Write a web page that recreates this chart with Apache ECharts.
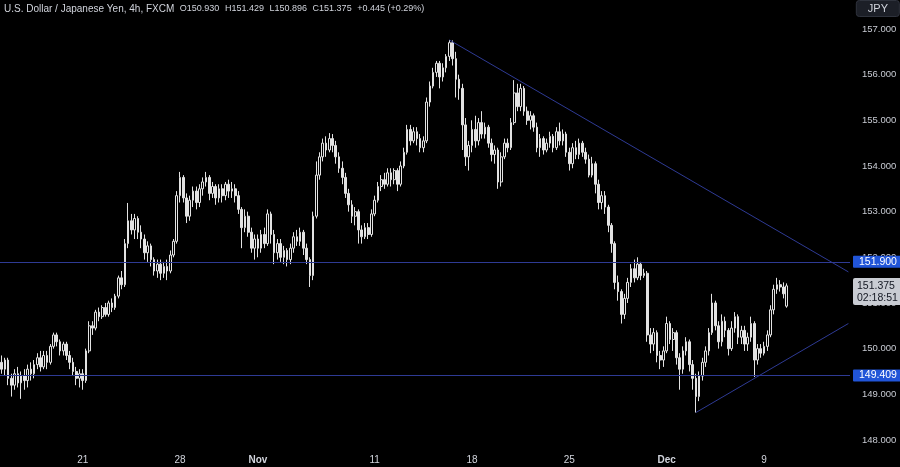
<!DOCTYPE html>
<html><head><meta charset="utf-8">
<script src="https://cdn.jsdelivr.net/npm/echarts@6/dist/echarts.min.js"></script>
<style>html,body{margin:0;padding:0;background:#000;}#c{width:900px;height:467px;}</style>
</head><body><div id="c"></div>
<script>
const opens=[149.70,149.55,149.75,149.35,149.20,149.45,149.25,149.40,149.30,149.55,149.45,149.65,149.80,149.60,149.85,149.70,150.05,150.30,150.15,149.95,150.10,149.85,149.70,149.50,149.35,149.45,149.30,149.95,150.50,150.45,150.80,150.70,150.90,150.75,151.00,150.90,151.15,151.55,151.40,152.30,152.80,152.60,152.85,152.55,152.40,152.10,152.25,151.95,151.70,151.85,151.65,151.80,151.70,152.05,152.35,153.35,153.75,153.30,152.90,153.25,153.45,153.20,153.50,153.65,153.75,153.40,153.55,153.30,153.50,153.35,153.60,153.45,153.50,153.35,153.05,152.65,152.90,152.55,152.20,152.40,152.20,152.50,152.30,152.95,152.50,152.10,152.30,152.00,152.15,151.95,152.20,152.45,152.35,152.55,152.20,151.95,151.60,152.90,153.80,154.20,154.50,154.35,154.60,154.45,154.20,153.95,153.75,153.40,153.15,152.90,153.00,152.60,152.45,152.65,152.50,152.95,153.25,153.55,153.70,153.60,153.85,153.70,153.90,153.60,154.00,154.30,154.80,154.55,154.75,154.60,154.40,154.55,155.40,155.75,156.05,156.25,155.95,156.15,156.40,156.70,156.35,155.90,155.70,154.90,154.20,154.45,154.80,154.55,154.95,154.70,154.85,154.50,154.25,154.35,153.65,154.20,154.50,154.40,154.95,155.60,155.30,155.70,155.20,155.00,155.10,154.85,154.40,154.60,154.35,154.50,154.65,154.40,154.75,154.55,154.70,154.30,154.05,154.40,154.25,154.50,154.30,154.15,153.80,154.05,153.60,153.20,153.35,153.10,152.70,152.30,151.45,151.25,150.75,151.10,151.45,151.75,151.55,151.85,151.60,151.65,150.30,150.10,150.35,149.85,149.75,149.95,150.55,150.20,150.35,149.80,149.55,149.95,150.15,149.65,149.35,148.95,149.40,149.70,149.95,150.35,151.00,150.50,150.15,150.60,150.40,150.00,150.45,150.70,150.25,150.40,150.10,150.25,150.55,149.75,150.00,149.90,150.05,150.30,150.85,151.30,151.40,151.35,150.930];
const highs=[149.85,149.80,149.80,149.45,149.55,149.60,149.50,149.55,149.65,149.70,149.75,149.90,149.95,149.95,149.95,150.10,150.35,150.35,150.20,150.15,150.15,149.95,149.80,149.60,149.55,149.55,150.00,150.60,150.60,150.85,150.90,150.95,151.00,151.05,151.10,151.20,151.60,151.70,152.40,153.19,152.95,152.95,152.90,152.70,152.50,152.35,152.30,152.00,151.95,151.95,151.90,151.95,152.15,152.40,153.45,153.87,153.80,153.40,153.35,153.55,153.55,153.60,153.75,153.87,153.80,153.65,153.60,153.60,153.60,153.65,153.70,153.65,153.60,153.45,153.10,153.05,153.00,152.65,152.50,152.50,152.60,152.65,153.05,153.00,152.60,152.40,152.40,152.25,152.20,152.30,152.55,152.60,152.65,152.60,152.30,152.00,153.00,154.10,154.30,154.60,154.65,154.72,154.70,154.55,154.30,154.10,153.85,153.50,153.25,153.10,153.05,152.70,152.75,152.75,153.05,153.35,153.65,153.80,153.85,153.95,153.95,153.95,153.95,154.10,154.40,154.90,154.90,154.85,154.85,154.70,154.65,155.50,155.85,156.15,156.30,156.30,156.25,156.45,156.76,156.75,156.50,156.00,155.80,155.05,154.55,155.00,155.10,155.05,155.20,154.95,154.90,154.60,154.45,154.40,154.30,154.60,154.60,155.05,155.88,155.80,155.80,155.75,155.30,155.20,155.15,154.95,154.70,154.65,154.60,154.75,154.70,154.85,154.95,154.80,154.75,154.40,154.50,154.55,154.60,154.55,154.40,154.25,154.20,154.10,153.70,153.45,153.45,153.15,152.75,152.35,151.60,151.30,151.20,151.55,151.85,151.95,152.00,151.90,151.75,151.70,150.45,150.45,150.40,149.95,150.05,150.70,150.60,150.45,150.40,149.90,150.05,150.25,150.20,149.75,149.45,149.50,149.80,150.05,150.45,151.20,151.05,150.60,150.75,150.70,150.45,150.60,150.80,150.75,150.50,150.50,150.35,150.70,150.60,150.10,150.10,150.15,150.40,150.95,151.40,151.55,151.50,151.45,151.429];
const lows=[149.45,149.40,149.20,148.95,149.10,149.15,148.90,149.10,149.15,149.30,149.35,149.55,149.50,149.55,149.55,149.65,150.00,150.05,149.85,149.85,149.75,149.55,149.40,149.20,149.15,149.10,149.25,149.90,150.30,150.40,150.60,150.65,150.70,150.70,150.80,150.85,151.10,151.30,151.35,152.20,152.50,152.40,152.40,152.20,151.95,151.90,151.80,151.60,151.55,151.50,151.55,151.50,151.65,152.00,152.30,153.20,153.20,152.75,152.80,153.10,153.05,153.10,153.35,153.55,153.25,153.30,153.15,153.20,153.20,153.25,153.30,153.30,153.20,152.95,152.20,152.55,152.45,152.10,151.95,152.00,152.10,152.20,152.25,152.30,151.85,151.95,151.90,151.85,151.80,151.85,152.10,152.25,152.25,152.05,151.85,151.35,151.50,152.85,153.70,154.10,154.20,154.30,154.30,154.05,153.85,153.60,153.30,153.00,152.75,152.70,152.30,152.30,152.40,152.40,152.45,152.90,153.20,153.45,153.50,153.55,153.55,153.60,153.45,153.55,153.95,154.25,154.45,154.50,154.45,154.30,154.30,154.50,155.30,155.70,155.95,155.70,155.85,156.05,156.30,156.20,155.50,155.45,154.35,154.00,153.90,154.30,154.40,154.45,154.60,154.60,154.40,154.10,154.05,153.50,153.55,154.15,154.30,154.35,154.90,155.20,155.20,155.10,154.90,154.80,154.75,154.30,154.20,154.25,154.30,154.40,154.30,154.35,154.45,154.45,154.20,153.90,153.95,154.15,154.15,154.20,154.05,153.75,153.75,153.40,153.05,153.05,152.95,152.55,152.10,151.30,151.05,150.55,150.65,151.00,151.35,151.45,151.50,151.50,151.55,150.15,149.90,149.95,149.70,149.55,149.60,149.90,150.10,149.95,149.65,149.10,149.45,149.85,149.50,149.10,148.60,148.85,149.30,149.60,149.85,150.30,150.40,150.00,150.05,150.25,149.85,149.95,150.35,150.10,150.10,149.95,149.95,150.15,149.38,149.65,149.80,149.85,149.95,150.25,150.75,151.20,151.25,151.10,150.896];
const closes=[149.55,149.75,149.35,149.20,149.45,149.25,149.40,149.30,149.55,149.45,149.65,149.80,149.60,149.85,149.70,150.05,150.30,150.15,149.95,150.10,149.85,149.70,149.50,149.35,149.45,149.30,149.95,150.50,150.45,150.80,150.70,150.90,150.75,151.00,150.90,151.15,151.55,151.40,152.30,152.80,152.60,152.85,152.55,152.40,152.10,152.25,151.95,151.70,151.85,151.65,151.80,151.70,152.05,152.35,153.35,153.75,153.30,152.90,153.25,153.45,153.20,153.50,153.65,153.75,153.40,153.55,153.30,153.50,153.35,153.60,153.45,153.50,153.35,153.05,152.65,152.90,152.55,152.20,152.40,152.20,152.50,152.30,152.95,152.50,152.10,152.30,152.00,152.15,151.95,152.20,152.45,152.35,152.55,152.20,151.95,151.60,152.90,153.80,154.20,154.50,154.35,154.60,154.45,154.20,153.95,153.75,153.40,153.15,152.90,153.00,152.60,152.45,152.65,152.50,152.95,153.25,153.55,153.70,153.60,153.85,153.70,153.90,153.60,154.00,154.30,154.80,154.55,154.75,154.60,154.40,154.55,155.40,155.75,156.05,156.25,155.95,156.15,156.40,156.70,156.35,155.90,155.70,154.90,154.20,154.45,154.80,154.55,154.95,154.70,154.85,154.50,154.25,154.35,153.65,154.20,154.50,154.40,154.95,155.60,155.30,155.70,155.20,155.00,155.10,154.85,154.40,154.60,154.35,154.50,154.65,154.40,154.75,154.55,154.70,154.30,154.05,154.40,154.25,154.50,154.30,154.15,153.80,154.05,153.60,153.20,153.35,153.10,152.70,152.30,151.45,151.25,150.75,151.10,151.45,151.75,151.55,151.85,151.60,151.65,150.30,150.10,150.35,149.85,149.75,149.95,150.55,150.20,150.35,149.80,149.55,149.95,150.15,149.65,149.35,148.95,149.40,149.70,149.95,150.35,151.00,150.50,150.15,150.60,150.40,150.00,150.45,150.70,150.25,150.40,150.10,150.25,150.55,149.75,150.00,149.90,150.05,150.30,150.85,151.30,151.40,151.35,151.20,151.375];

const slotCount = 262;
const tickIdx = [25, 55, 79, 115, 145, 175, 205, 235];
const tickText = ['21', '28', 'Nov', '11', '18', '25', 'Dec', '9'];
const priceMin = 147.78;
const priceMax = 157.635;
const levels = [151.900, 149.409];
const lastPrice = 151.375;
const countdown = '02:18:51';
const resistanceLine = [['138', 156.76], ['261', 151.68]];
const supportLine = [['214', 148.60], ['261', 150.55]];
const symbolName = 'U.S. Dollar / Japanese Yen, 4h, FXCM';
const ohlcText = ['O150.930', 'H151.429', 'L150.896', 'C151.375', '+0.445 (+0.29%)'];

const cats = Array.from({length: slotCount}, (_, i) => String(i));
const candles = opens.map((o, i) => [o, closes[i], lows[i], highs[i]]);

const FONT = 'Liberation Sans, Arial, sans-serif';
const lineColor = '#2e3a94';
const chart = echarts.init(document.getElementById('c'), null, {renderer: 'canvas'});
const levelMarks = levels.map(v => ({
  yAxis: v,
  lineStyle: {color: lineColor, width: 1, type: 'solid'},
  label: {show: true, position: 'end', distance: 3, formatter: v.toFixed(3),
    backgroundColor: '#2155d8', color: '#ffffff', fontSize: 10.5, fontFamily: FONT,
    padding: [1, 6, 0, 6], borderRadius: 1}
}));
const headerRich = '{a|' + symbolName + '}  ' + ohlcText.map(t => '{b|' + t + '}').join('{s|  }');
const option = {
  backgroundColor: '#000000',
  animation: false,
  title: [
    {text: headerRich, left: 2, top: 2, padding: [2, 2],
      textStyle: {color: '#d1d4dc', fontSize: 10, fontWeight: 'normal', fontFamily: FONT,
        rich: {a: {color: '#d1d4dc', fontSize: 10, fontFamily: FONT},
               b: {color: '#d1d4dc', fontSize: 9, fontFamily: FONT},
               s: {fontSize: 10, fontFamily: FONT}}}},
    {text: 'JPY', right: 0, top: 0, padding: [3, 12, 3, 12], backgroundColor: '#1c1f27', borderColor: '#2f333d', borderWidth: 1, borderRadius: 3,
      textStyle: {color: '#d1d4dc', fontSize: 11, fontWeight: 'normal', fontFamily: FONT}}
  ],
  grid: {left: 0, right: 50, top: 0, bottom: 17},
  xAxis: {type: 'category', data: cats, boundaryGap: true,
    axisLine: {show: false}, axisTick: {show: false}, splitLine: {show: false},
    axisLabel: {show: true, margin: 5, color: '#d1d4dc', fontSize: 10, fontFamily: FONT,
      interval: (idx) => tickIdx.includes(idx),
      formatter: (val) => {
        const k = tickIdx.indexOf(Number(val));
        if (k < 0) return '';
        const t = tickText[k];
        return /^[A-Za-z]/.test(t) ? '{b|' + t + '}' : t;
      },
      rich: {b: {fontWeight: 'bold', color: '#d1d4dc', fontSize: 10, fontFamily: FONT}}
    }},
  yAxis: {type: 'value', position: 'right', min: priceMin, max: priceMax, minInterval: 1, maxInterval: 1, splitNumber: 10,
    axisLine: {show: false}, axisTick: {show: false}, splitLine: {show: false},
    axisLabel: {color: '#c8cbd3', fontSize: 9.5, margin: 12, fontFamily: FONT, showMinLabel: false, showMaxLabel: false,
      formatter: v => (Math.abs(v - Math.round(v)) < 1e-6 ? v.toFixed(3) : '')}},
  series: [{
    type: 'candlestick',
    data: candles,
    barWidth: '66%',
    itemStyle: {color: '#000000', borderColor: '#e2e2e2', color0: '#e2e2e2', borderColor0: '#e2e2e2', borderWidth: 1},
    markLine: {
      silent: true, symbol: ['none', 'none'], animation: false,
      data: [
        ...levelMarks,
        {yAxis: lastPrice, lineStyle: {color: 'rgba(0,0,0,0)', width: 0},
          label: {show: true, position: 'end', distance: 3, offset: [0, 6], formatter: lastPrice.toFixed(3) + '\n' + countdown,
            backgroundColor: '#c9ccd3', color: '#131722', fontSize: 10.5, lineHeight: 12, fontFamily: FONT,
            padding: [2, 4, 1, 4], borderRadius: 2, opacity: 1}},
        [{coord: resistanceLine[0], lineStyle: {color: lineColor, width: 1, type: 'solid'}, label: {show: false}}, {coord: resistanceLine[1]}],
        [{coord: supportLine[0], lineStyle: {color: lineColor, width: 1, type: 'solid'}, label: {show: false}}, {coord: supportLine[1]}]
      ]
    }
  }]
};
chart.setOption(option);
</script></body></html>
